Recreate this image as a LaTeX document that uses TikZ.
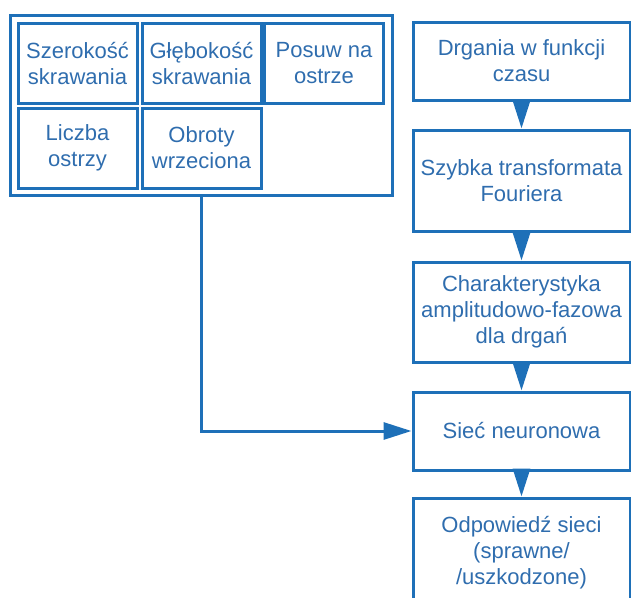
\documentclass[tikz,border=0pt]{standalone}
\usepackage{fontspec}
\setmainfont{Liberation Sans}
\usetikzlibrary{arrows.meta}
\definecolor{edge}{HTML}{1E70B8}
\definecolor{label}{HTML}{2F6DAE}

\tikzset{
  cell/.style={draw=edge, line width=3pt, text=label, align=center,
    minimum width=119pt, minimum height=80pt, inner sep=0pt,
    font=\fontsize{22}{26}\selectfont},
  stage/.style={cell, minimum width=217pt},
  flow/.style={draw=edge, line width=3pt,
    -{Triangle[length=28pt,width=17pt]}},
}

\begin{document}
\begin{tikzpicture}[x=1pt, y=-1pt]

\useasboundingbox (0,0) rectangle (631,597);
\clip (0,0) rectangle (631,597);

% machining parameters, two rows of cells
\node[cell] (szer) at (77.5,63.5) {Szerokość\\skrawania};
\node[cell] (gleb) at (201.5,63.5) {Głębokość\\skrawania};
\node[cell] (posuw) at (324,63.5) {Posuw na\\ostrze};
\node[cell] (ostrza) at (77.5,148) {Liczba\\ostrzy};
\node[cell] (obroty) at (201.5,148) {Obroty\\wrzeciona};

% frame round the parameters
\node[draw=edge, line width=3pt, inner sep=0pt,
  minimum width=382pt, minimum height=180pt] (params) at (201,105) {};

% vibration signal chain (last box runs off the page)
\node[stage, minimum height=78pt] (drgania) at (521.5,61) {Drgania w funkcji\\czasu};
\node[stage, minimum height=101pt] (fft) at (521.5,180.5) {Szybka transformata\\Fouriera};
\node[stage, minimum height=100pt] (charakt) at (521.5,312) {Charakterystyka\\amplitudowo-fazowa\\dla drgań};
\node[stage, minimum height=78pt] (siec) at (521.5,431) {Sieć neuronowa};
\node[stage, minimum height=110pt] (odp) at (521.5,553) {Odpowiedź sieci\\(sprawne/\\/uszkodzone)};

\draw[flow] (drgania) -- (fft);
\draw[flow] (fft) -- (charakt);
\draw[flow] (charakt) -- (siec);
\draw[flow] (siec) -- (odp);

% parameters feed the network
\draw[flow] (params.south) |- (siec.west);

\end{tikzpicture}
\end{document}
